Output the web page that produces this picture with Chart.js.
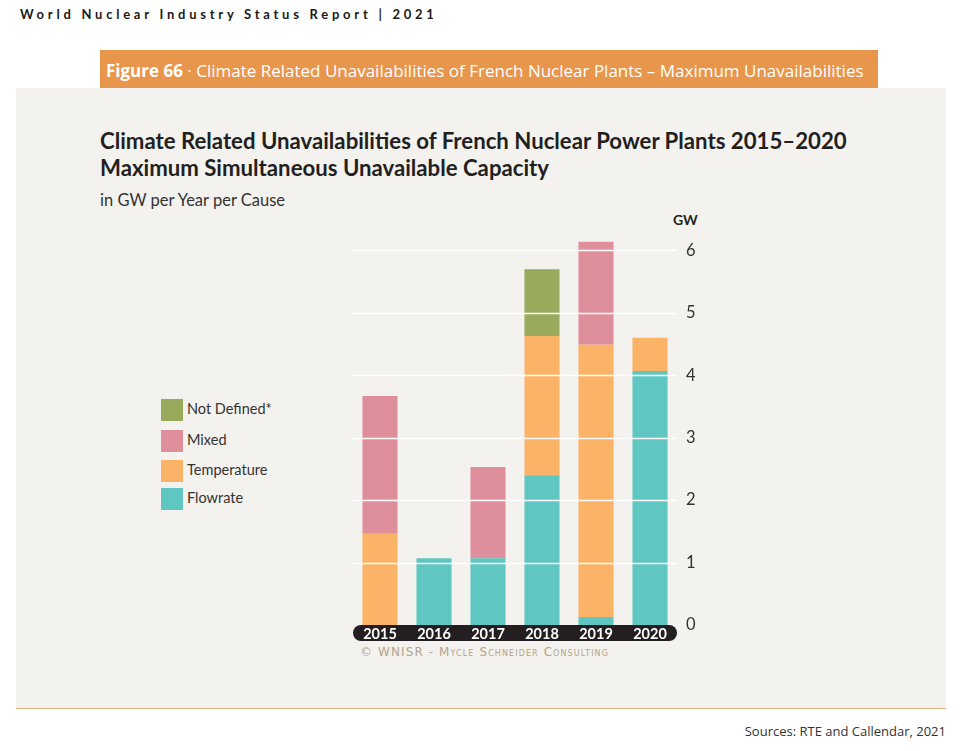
<!DOCTYPE html>
<html lang="en">
<head>
<meta charset="UTF-8">
<script src="https://cdn.jsdelivr.net/npm/chart.js"></script>
<title>Climate Related Unavailabilities of French Nuclear Plants</title>
<style>
  body { margin: 0; width: 961px; height: 751px; background: #fff; position: relative; overflow: hidden; font-family: Lato, sans-serif; }
  .abs { position: absolute; white-space: nowrap; }
  #top { left: 20px; top: 6px; font: bold 13px Lato, sans-serif; letter-spacing: 3.75px; color: #1a1a1a; }
  #figbar { left: 100px; top: 50px; width: 778px; height: 38px; background: #e8964c; color: #fff; font: 17px "Open Sans", sans-serif; line-height: 42px; padding-left: 6px; box-sizing: border-box; }
  #panel { left: 16px; top: 88px; width: 930px; height: 620px; background: #f3f2ee; border-bottom: 1px solid #d9b386; }
  #title { left: 100px; top: 127px; font: bold 22.2px Lato, sans-serif; line-height: 27px; color: #231f20; }
  #sub { left: 100px; top: 190px; font: 16.5px Lato, sans-serif; color: #333; }
  #gw { left: 673px; top: 211px; font: bold 14px Lato, sans-serif; color: #231f20; }
  #copy { left: 360px; top: 645px; font: 12px "DejaVu Sans", sans-serif; letter-spacing: 1.1px; color: #b5a488; font-variant: small-caps; }
  #src { right: 15px; top: 722px; font: 13px "Open Sans", sans-serif; color: #333; }
  .leg { position: absolute; left: 161px; font: 14.5px Lato, sans-serif; color: #333; }
  .leg span { display: inline-block; width: 22px; height: 22px; vertical-align: middle; margin-right: 4px; }
  canvas { position: absolute; left: 0; top: 0; }
</style>
</head>
<body>
<div class="abs" id="top">World Nuclear Industry Status Report | 2021</div>
<div class="abs" id="figbar"><b>Figure 66</b> · Climate Related Unavailabilities of French Nuclear Plants – Maximum Unavailabilities</div>
<div class="abs" id="panel"></div>
<div class="abs" id="title">Climate Related Unavailabilities of French Nuclear Power Plants 2015–2020<br>Maximum Simultaneous Unavailable Capacity</div>
<div class="abs" id="sub">in GW per Year per Cause</div>
<div class="abs" id="gw">GW</div>
<div class="abs" id="copy">© WNISR - Mycle Schneider Consulting</div>
<div class="abs" id="src">Sources: RTE and Callendar, 2021</div>
<div id="legend"></div>
<canvas id="chart" width="961" height="751"></canvas>
<script>
const years = ['2015', '2016', '2017', '2018', '2019', '2020'];
const flowrate = [0, 1.07, 1.07, 2.40, 0.13, 4.07];
const temperature = [1.46, 0, 0, 2.23, 4.36, 0.53];
const mixed = [2.21, 0, 1.46, 0, 1.65, 0];
const notDefined = [0, 0, 0, 1.07, 0, 0];
const yTicks = [0, 1, 2, 3, 4, 5, 6];

const series = [
  { label: 'Flowrate', data: flowrate, color: '#5fc6c1' },
  { label: 'Temperature', data: temperature, color: '#fbb467' },
  { label: 'Mixed', data: mixed, color: '#de8f9b' },
  { label: 'Not Defined*', data: notDefined, color: '#99aa5c' }
];

// legend, top entry first
const legendEl = document.getElementById('legend');
const legTops = [399, 430, 460, 488];
series.slice().reverse().forEach((s, i) => {
  const d = document.createElement('div');
  d.className = 'leg';
  d.style.top = legTops[i] + 'px';
  d.innerHTML = '<span style="background:' + s.color + '"></span>' + s.label;
  legendEl.appendChild(d);
});

const overlay = {
  id: 'overlay',
  beforeDraw(chart) {
    // dark rounded strip behind the year labels
    const c = chart.ctx, a = chart.chartArea;
    const x0 = a.left, x1 = a.right, y0 = a.bottom, h = 16;
    c.save();
    c.fillStyle = '#231f20';
    c.beginPath();
    c.roundRect(x0, y0, x1 - x0, h, h / 2);
    c.fill();
    c.restore();
  },
  afterDatasetsDraw(chart) {
    // white gridlines over the bars
    const c = chart.ctx, a = chart.chartArea, y = chart.scales.y;
    c.save();
    c.strokeStyle = '#ffffff';
    c.lineWidth = 1.3;
    yTicks.slice(1).forEach(v => {
      const py = Math.round(y.getPixelForValue(v)) + 0.5;
      c.beginPath();
      c.moveTo(a.left, py);
      c.lineTo(a.right, py);
      c.stroke();
    });
    c.restore();
  }
};

new Chart(document.getElementById('chart'), {
  type: 'bar',
  data: {
    labels: years,
    datasets: series.map(s => ({
      label: s.label,
      data: s.data,
      backgroundColor: s.color,
      borderWidth: 0,
      barPercentage: 0.65,
      categoryPercentage: 1
    }))
  },
  options: {
    responsive: false,
    animation: false,
    layout: { padding: { left: 353, right: 244, top: 238, bottom: 96 } },
    plugins: { legend: { display: false }, tooltip: { enabled: false } },
    scales: {
      x: {
        stacked: true,
        grid: { display: false, drawTicks: false },
        border: { display: false },
        ticks: { color: '#ffffff', font: { family: 'Lato', weight: 'bold', size: 14.5 }, padding: 1, maxRotation: 0 },
        afterFit(s) { s.height = 30; }
      },
      y: {
        stacked: true,
        position: 'right',
        min: 0,
        max: 6.2,
        afterBuildTicks(s) { s.ticks = yTicks.map(v => ({ value: v })); },
        grid: { display: false, drawTicks: false },
        border: { display: false },
        ticks: { color: '#333333', font: { family: 'Lato', size: 16.5 }, padding: 9 },
        afterFit(s) { s.width = 40; }
      }
    }
  },
  plugins: [overlay]
});
</script>
</body>
</html>
